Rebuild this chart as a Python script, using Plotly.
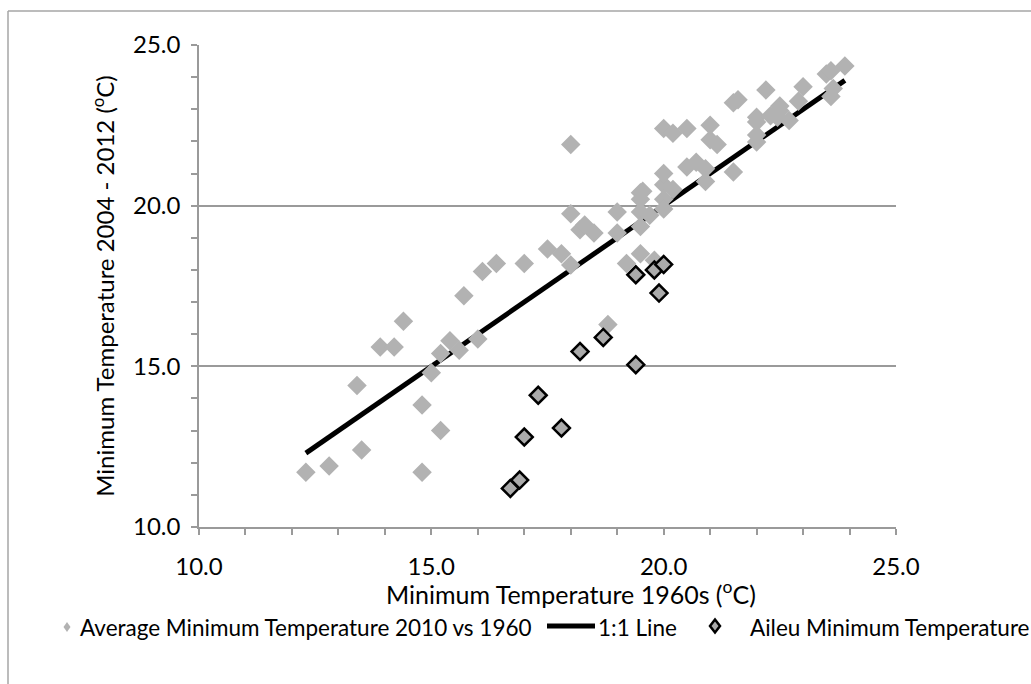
import plotly.graph_objects as go

# ---------------- data ----------------
avg_x = [12.3, 12.8, 13.4, 13.5, 13.9, 14.2, 14.4, 14.8, 14.8, 15.0,
         15.2, 15.2, 15.4, 15.6, 15.7, 16.0, 16.1, 16.4, 17.0, 17.5,
         17.8, 18.0, 18.0, 18.0, 18.2, 18.3, 18.5, 18.8, 19.0, 19.0,
         19.2, 19.5, 19.8, 19.5, 19.5, 19.5, 19.5, 19.7, 20.0, 20.0,
         20.0, 20.0, 20.2, 20.0, 20.2, 20.5, 20.5, 20.7, 20.9, 20.9,
         21.0, 21.0, 21.15, 21.5, 21.5, 21.6, 22.0, 22.0, 22.0, 22.0,
         22.2, 22.3, 22.45, 22.5, 22.5, 22.7, 22.9, 23.0, 23.5, 23.6,
         23.9, 23.65, 23.6, 19.55]
avg_y = [11.7, 11.9, 14.4, 12.4, 15.6, 15.6, 16.4, 13.8, 11.7, 14.8,
         15.4, 13.0, 15.8, 15.5, 17.2, 15.85, 17.95, 18.2, 18.2, 18.65,
         18.5, 18.15, 19.75, 21.9, 19.25, 19.4, 19.15, 16.3, 19.8, 19.15,
         18.2, 18.5, 18.3, 20.4, 20.2, 19.8, 19.35, 19.7, 20.65, 21.0,
         20.2, 19.9, 20.5, 22.4, 22.25, 22.4, 21.2, 21.35, 21.15, 20.75,
         22.5, 22.05, 21.9, 21.05, 23.2, 23.3, 22.75, 22.6, 22.2, 21.98,
         23.6, 22.8, 22.75, 23.1, 22.95, 22.65, 23.25, 23.7, 24.1, 24.2,
         24.35, 23.65, 23.4, 20.45]

line_x = [12.3, 23.9]
line_y = [12.3, 23.9]

aileu_x = [16.7, 16.9, 17.0, 17.3, 17.8, 18.2, 18.7, 19.4, 19.4, 19.8, 20.0, 19.9]
aileu_y = [11.2, 11.46, 12.8, 14.1, 13.08, 15.46, 15.9, 15.05, 17.85, 18.0, 18.17, 17.28]

x_ticks = [10.0, 15.0, 20.0, 25.0]
y_ticks = [10.0, 15.0, 20.0, 25.0]

legend_names = ["Average Minimum Temperature 2010 vs 1960", "1:1 Line",
                "Aileu Minimum Temperature"]
x_title = "Minimum Temperature 1960s (<sup>o</sup>C)"
y_title = "Minimum Temperature 2004 - 2012 (<sup>o</sup>C)"

# ---------------- layout geometry ----------------
W, H = 1031, 684
L, R, T, B = 199, 896, 45, 527
FONT = "Lato"
GRAY = "#b2b2b2"
AXIS = "#9a9a9a"


def px2x(px):
    return (px - L) / (R - L)


def py2y(py):
    return (B - py) / (B - T)


fig = go.Figure()

fig.add_trace(go.Scatter(x=line_x, y=line_y, mode="lines", name=legend_names[1],
                         line=dict(color="black", width=5), showlegend=False))
fig.add_trace(go.Scatter(x=avg_x, y=avg_y, mode="markers", name=legend_names[0],
                         marker=dict(symbol="diamond", size=15, color=GRAY,
                                     line=dict(width=0)), showlegend=False))
fig.add_trace(go.Scatter(x=aileu_x, y=aileu_y, mode="markers", name=legend_names[2],
                         marker=dict(symbol="diamond", size=13, color="#ababab",
                                     line=dict(width=2.5, color="black")),
                         showlegend=False))

axis_common = dict(
    range=[10, 25], tickvals=x_ticks, tickformat=".1f",
    showline=True, linecolor=AXIS, linewidth=1.5,
    ticks="outside", ticklen=6, tickwidth=1.5, tickcolor=AXIS,
    tickfont=dict(family=FONT, size=24, color="black"),
    minor=dict(dtick=1, ticks="outside", ticklen=6, tickwidth=1.5,
               tickcolor=AXIS, showgrid=False),
    zeroline=False, fixedrange=True,
)

fig.update_xaxes(**axis_common, showgrid=False, ticklabelstandoff=11)
fig.update_yaxes(**axis_common, showgrid=True, gridcolor=AXIS, gridwidth=1.5,
                 ticklabelstandoff=6,
                 title=dict(text=y_title, font=dict(family=FONT, size=24, color="black"),
                            standoff=12))

shapes = [
    # outer chart border (extends beyond the visible page on right and bottom)
    dict(type="line", xref="paper", yref="paper", x0=px2x(8), x1=px2x(W + 5),
         y0=py2y(11), y1=py2y(11), line=dict(color="#a6a6a6", width=1.5)),
    dict(type="line", xref="paper", yref="paper", x0=px2x(8), x1=px2x(8),
         y0=py2y(11), y1=py2y(H + 5), line=dict(color="#a6a6a6", width=1.5)),
    # legend symbols
    dict(type="path", xref="paper", yref="paper", xsizemode="pixel", ysizemode="pixel",
         xanchor=px2x(67), yanchor=py2y(627),
         path="M 0 5 L 3.5 0 L 0 -5 L -3.5 0 Z", fillcolor=GRAY, line=dict(width=0)),
    dict(type="line", xref="paper", yref="paper", x0=px2x(547), x1=px2x(595),
         y0=py2y(626), y1=py2y(626), line=dict(color="black", width=5)),
    dict(type="path", xref="paper", yref="paper", xsizemode="pixel", ysizemode="pixel",
         xanchor=px2x(715), yanchor=py2y(626),
         path="M 0 6.5 L 5 0 L 0 -6.5 L -5 0 Z", fillcolor="#ababab",
         line=dict(color="black", width=2.5)),
]

annotations = [
    dict(text=x_title, x=px2x(571), y=py2y(592), xref="paper", yref="paper",
         xanchor="center", yanchor="middle", showarrow=False,
         font=dict(family=FONT, size=25, color="black")),
    dict(text=legend_names[0], x=px2x(78), y=py2y(627), xref="paper", yref="paper",
         xanchor="left", yanchor="middle", showarrow=False,
         font=dict(family=FONT, size=22.5, color="black")),
    dict(text=legend_names[1], x=px2x(596), y=py2y(627), xref="paper", yref="paper",
         xanchor="left", yanchor="middle", showarrow=False,
         font=dict(family=FONT, size=22.5, color="black")),
    dict(text=legend_names[2], x=px2x(748), y=py2y(627), xref="paper", yref="paper",
         xanchor="left", yanchor="middle", showarrow=False,
         font=dict(family=FONT, size=22.5, color="black")),
]

fig.update_layout(
    width=W, height=H, autosize=False,
    margin=dict(l=L, r=W - R, t=T, b=H - B, pad=0),
    paper_bgcolor="white", plot_bgcolor="white",
    showlegend=False,
    shapes=shapes, annotations=annotations,
    font=dict(family=FONT, size=22, color="black"),
)

fig.write_html("out.html", config={"displayModeBar": False})
